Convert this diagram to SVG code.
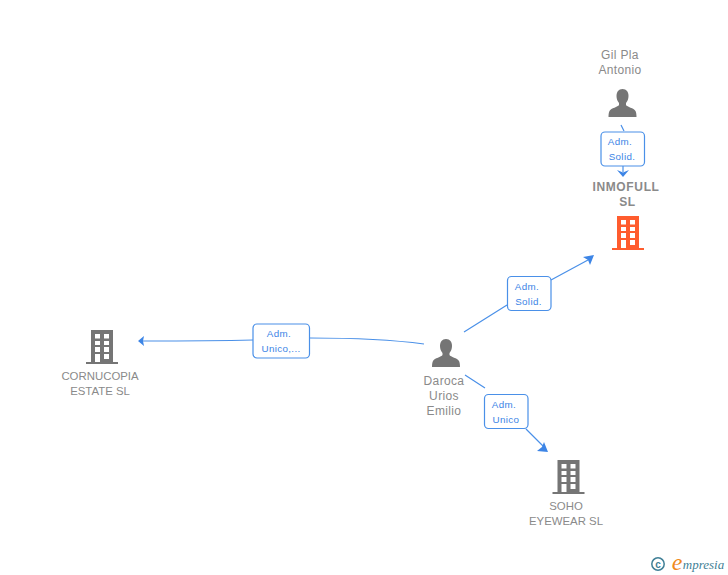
<svg xmlns="http://www.w3.org/2000/svg" width="728" height="575" viewBox="0 0 728 575">
<style>
.lbl{font-family:"Liberation Sans",Arial,sans-serif;font-size:12px;fill:#8a8a8a;text-anchor:middle;letter-spacing:.35px}
.co{font-size:11.400px;letter-spacing:0}
.b{font-weight:bold;font-size:12px;letter-spacing:.65px}
.e{font-family:"Liberation Sans",Arial,sans-serif;font-size:9.800px;fill:#3d85e6;text-anchor:middle;letter-spacing:.35px}
.box{fill:#fff;stroke:#4a90e8;stroke-width:1.200}
.c{fill:none;stroke:#4a90e8;stroke-width:1.200}
.h{fill:#3d85e6}
</style>
<defs>
<g id="person"><path d="M0-15c4 0 6 3 6 7 0 3-1 5-2.500 7v2c1 2 8 3 9.500 6 .8 1.500 1 4 1 6h-28c0-2 .2-4.500 1-6 1.500-3 8.500-4 9.500-6v-2c-1.500-2-2.500-4-2.500-7 0-4 2-7 6-7z" fill="#757575"/></g>
<g id="bld"><path fill-rule="evenodd" d="M-11-17h22v32h5v2h-32v-2h5zM-7-13v4.500h5v-4.500zM2-13v4.500h5v-4.500zM-7-6v4h5v-4zM2-6v4h5v-4zM-7 0v5h5v-5zM2 0v5h5v-5zM-7 7v8h5v-8zM2 7v5h5v-5z"/></g>
</defs>
<g id="connectors">
<path class="c" d="M621 125l3 6M623 165v7"/>
<path class="h" d="M617 170l6 2.500 6-2.500-6 7z"/>
<path class="c" d="M464 332l43-27M551 280l37-20"/>
<path class="h" d="M594 255l-11 2 5 3 2 5z"/>
<path class="c" d="M424 344c-30-4-70-6-114-6M253 340c-40 1-70 1-110 1"/>
<path class="h" d="M138 341l6-5-1 5 1 5z"/>
<path class="c" d="M465 375l20 13M526 429l18 18"/>
<path class="h" d="M548 452l-11-1 5-4 2-5z"/>
</g>
<g id="gil"><use href="#person" x="622.500" y="104"/><text class="lbl" x="620" y="59">Gil Pla</text><text class="lbl" x="620" y="74">Antonio</text></g>
<g id="inmofull"><use href="#bld" x="628" y="233" fill="#ff5c2e"/><text class="lbl b" x="626" y="191">INMOFULL</text><text class="lbl b" x="627.500" y="206">SL</text></g>
<g id="daroca"><use href="#person" x="446" y="354"/><text class="lbl" x="444" y="385">Daroca</text><text class="lbl" x="444" y="400">Urios</text><text class="lbl" x="444" y="415">Emilio</text></g>
<g id="cornucopia"><use href="#bld" x="102" y="347" fill="#757575"/><text class="lbl co" x="100" y="380">CORNUCOPIA</text><text class="lbl co" x="100" y="395">ESTATE SL</text></g>
<g id="soho"><use href="#bld" x="568.500" y="477" fill="#757575"/><text class="lbl co" x="566" y="510">SOHO</text><text class="lbl co" x="566" y="525">EYEWEAR SL</text></g>
<g id="e1"><rect class="box" x="601" y="132" width="43.500" height="34" rx="4"/><text class="e" x="620" y="145">Adm.</text><text class="e" x="622" y="160">Solid.</text></g>
<g id="e2"><rect class="box" x="507.500" y="276.500" width="43.500" height="34" rx="4"/><text class="e" x="527" y="290">Adm.</text><text class="e" x="528.500" y="305">Solid.</text></g>
<g id="e3"><rect class="box" x="253" y="324" width="56.500" height="34" rx="4"/><text class="e" x="279" y="337">Adm.</text><text class="e" x="281" y="352">Unico,...</text></g>
<g id="e4"><rect class="box" x="484.500" y="394.500" width="43.500" height="34" rx="4"/><text class="e" x="504" y="408">Adm.</text><text class="e" x="506" y="423">Unico</text></g>
<g id="logo"><circle cx="658" cy="564" r="6.200" fill="none" stroke="#3f7f96" stroke-width="1.500"/><text x="658" y="567.500" font-family="Liberation Sans,sans-serif" font-size="10" font-weight="bold" fill="#3f7f96" text-anchor="middle">c</text><text x="677" y="570" font-family="Liberation Serif,serif" font-style="italic" font-size="24" fill="#f08a1d" text-anchor="middle">e</text><text x="703.500" y="569" font-family="Liberation Serif,serif" font-style="italic" font-size="13" fill="#3f7f96" text-anchor="middle">mpresia</text></g>
</svg>
